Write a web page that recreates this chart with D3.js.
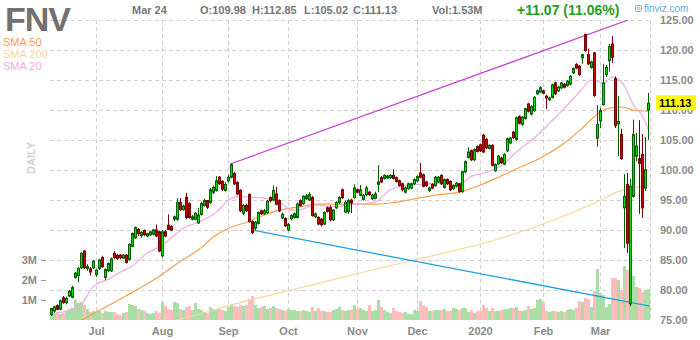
<!DOCTYPE html>
<html>
<head>
<meta charset="utf-8">
<script src="https://cdn.jsdelivr.net/npm/d3@7"></script>
<style>
  html, body { margin: 0; padding: 0; background: #fff; }
  svg { display: block; font-family: Arial, "Liberation Sans", sans-serif; }
</style>
</head>
<body>
<svg id="chart" width="700" height="340"></svg>
<script>
// ---- Daily OHLC for FNV, Jun 10 2019 .. Mar 24 2020 (one entry per session) ----
const opens = [
  75.9,76.5,77.4,76.8,78.7,77.9,79.0,78.8,82.1,82.4, 83.7,86.5,83.6,83.5,83.7,82.6,83.6,85.4,82.1,83.2,
  83.2,86.1,85.8,85.8,85.3,85.8,85.1,87.3,88.7,90.1, 89.1,89.9,89.0,89.2,89.3,90.0,89.7,85.7,89.7,90.8,
  90.6,91.8,91.8,94.6,93.4,95.4,94.4,91.8,91.8,91.2, 92.6,94.1,94.9,94.6,96.3,96.6,98.8,98.1,96.6,98.2,
  98.8,99.4,97.9,96.6,92.8,94.1,95.9,91.4,90.3,91.1, 93.2,92.7,92.9,95.4,95.0,96.0,94.9,92.0,91.9,90.0,
  91.9,92.1,92.1,94.9,94.4,95.2,95.0,95.4,92.2,92.1, 91.8,91.0,93.7,93.7,91.7,93.7,94.6,96.7,93.0,93.1,
  95.0,95.4,96.7,95.8,95.1,95.9,96.3,95.2,95.3,97.6, 98.7,98.6,98.7,98.7,99.1,98.7,98.2,97.7,96.3,96.9,
  97.0,97.7,98.2,99.5,99.2,98.0,96.6,97.6,97.4,98.0, 99.1,97.1,98.4,98.1,96.9,97.3,97.7,96.4,99.7,102.1,
  103.2,101.7,103.9,104.2,105.8,105.1,103.6,104.1,99.9,101.0, 102.0,101.0,103.2,104.5,106.3,105.1,108.9,107.6,108.6,111.0,
  109.3,109.9,112.7,113.0,113.2,112.3,111.7,112.1,114.5,113.2, 113.7,114.3,114.1,114.3,116.2,117.6,117.3,118.7,122.6,119.2,
  117.1,119.5,105.3,108.2,110.9,115.9,118.2,121.0,115.2,107.7, 105.9,93.7,97.6,77.7,95.6,102.3,101.9,102.6,97.0,109.98
];
const highs = [
  77.0,77.4,77.6,78.4,79.0,78.9,80.0,80.7,83.0,83.8, 86.3,86.6,84.3,83.8,85.0,83.5,85.2,85.7,83.6,84.6,
  85.4,86.5,86.0,86.0,86.0,86.0,87.8,89.6,90.6,90.3, 89.8,90.1,89.5,89.8,90.2,90.9,89.9,90.0,90.0,92.6,
  90.8,92.4,95.3,95.3,94.2,96.2,94.6,92.5,93.0,93.7, 94.7,95.2,95.0,97.0,97.4,99.0,99.0,98.3,98.0,99.2,
  101.1,99.7,98.1,96.8,94.3,94.4,96.1,91.6,91.5,93.1, 93.4,93.5,95.0,95.6,97.4,97.2,95.1,92.9,92.1,91.2,
  92.6,92.9,94.6,95.1,95.8,96.0,96.3,95.7,92.9,92.3, 92.0,93.1,93.9,94.1,93.5,94.8,95.6,96.9,94.9,95.2,
  95.2,97.6,96.9,97.5,96.0,97.4,96.5,96.0,96.4,100.8, 99.0,99.3,99.2,99.3,100.1,98.9,98.4,97.9,97.2,97.9,
  97.9,98.6,99.1,101.2,99.4,98.2,97.2,97.8,99.0,99.0, 99.3,98.6,98.6,98.3,97.6,98.0,97.9,99.9,101.6,103.8,
  103.4,103.6,104.1,104.4,106.0,105.3,104.3,104.3,101.1,102.5, 102.2,102.8,105.4,105.5,106.5,108.9,109.1,109.0,110.4,111.2,
  110.8,112.3,113.4,114.0,113.4,112.5,112.2,114.4,114.7,114.0, 114.7,114.5,115.0,115.8,117.1,117.8,117.5,119.4,122.7,120.2,
  118.2,119.7,110.8,110.4,117.7,117.5,121.0,122.3,115.6,112.3, 106.9,99.3,99.5,98.5,108.4,106.2,108.3,106.0,105.5,112.85
];
const lows = [
  75.7,76.2,76.6,76.6,77.7,77.6,78.8,78.6,81.9,81.3, 83.5,83.5,83.2,82.4,83.5,82.2,83.3,83.7,81.6,83.0,
  83.0,85.2,85.0,85.1,85.2,84.4,84.9,87.1,88.5,89.0, 88.7,89.0,88.8,89.0,89.1,88.8,86.3,85.4,88.8,90.0,
  89.8,91.5,91.5,93.2,93.2,91.8,91.9,91.6,91.6,91.0, 92.4,93.9,93.5,94.3,96.0,96.4,97.5,96.5,96.4,97.9,
  98.6,97.5,95.8,93.0,92.5,93.0,91.2,89.3,90.0,90.9, 92.5,92.5,92.7,94.6,94.8,94.1,93.0,91.8,90.5,89.8,
  91.6,91.9,91.9,93.9,94.2,95.0,94.8,92.2,92.0,90.8, 90.6,90.8,92.9,91.4,91.5,93.5,94.3,95.2,92.8,92.7,
  92.8,95.2,96.1,95.6,94.9,95.6,95.7,95.0,95.1,96.3, 97.8,98.4,98.5,98.5,98.4,97.9,97.2,96.4,96.1,96.7,
  96.8,97.5,98.0,98.6,97.1,97.2,96.3,96.8,97.2,97.8, 97.5,96.9,97.5,96.5,96.7,97.1,96.2,96.2,99.5,101.9,
  101.5,101.5,102.9,103.0,102.8,103.5,103.4,100.6,99.7,100.8, 101.0,100.8,103.0,104.3,105.2,104.9,107.6,107.4,108.4,109.6,
  109.1,109.7,112.5,112.8,112.6,110.2,111.5,111.9,112.5,113.0, 113.5,113.6,113.9,114.1,116.0,116.8,115.7,117.7,119.7,117.5,
  116.9,112.2,103.9,107.0,110.7,115.5,116.4,117.8,107.0,102.3, 101.7,87.0,86.2,77.3,95.4,101.5,92.7,92.0,96.5,105.02
];
const closes = [
  76.9,77.2,76.8,78.2,77.9,78.6,79.8,80.4,82.8,83.6, 86.1,83.7,83.9,83.0,84.8,83.3,85.0,83.9,83.4,84.4,
  85.2,85.4,85.3,85.4,85.8,84.6,87.6,89.4,90.4,89.4, 89.6,89.2,89.4,89.7,90.0,89.0,86.5,89.7,89.0,90.1,
  90.0,92.2,94.6,93.4,94.0,92.1,92.1,92.2,92.8,92.5, 94.4,94.9,93.8,96.7,97.1,98.2,97.7,96.8,97.6,98.8,
  100.9,97.7,96.0,93.2,94.1,93.2,91.4,89.6,91.3,92.9, 92.7,93.2,94.8,94.9,96.6,94.3,93.2,92.6,90.7,90.9,
  92.4,92.7,94.3,94.1,95.6,95.7,95.9,92.4,92.7,91.0, 90.9,92.9,93.1,91.7,93.3,94.6,95.4,95.4,94.6,94.9,
  94.5,97.0,96.3,96.7,95.8,97.0,95.9,95.8,96.0,98.0, 98.0,99.1,99.0,99.1,98.6,98.1,97.4,96.7,97.0,97.7,
  97.7,98.4,98.9,98.8,97.3,97.4,97.0,97.0,98.8,98.8, 97.7,98.4,97.7,96.7,97.4,97.8,96.4,99.7,101.4,103.0,
  101.7,103.4,103.1,103.2,103.0,103.7,104.1,100.8,100.9,102.3, 101.2,102.6,105.2,105.3,105.4,108.7,107.8,108.8,110.2,109.8,
  110.6,112.1,113.2,113.7,112.8,112.0,112.0,114.2,112.7,113.8, 114.5,113.8,114.8,115.6,116.9,117.0,115.9,119.2,119.9,117.7,
  118.0,112.4,107.6,109.9,114.5,117.1,120.6,118.8,107.4,108.1, 101.9,95.6,87.8,97.3,105.9,104.0,101.1,93.7,100.06,111.13
];
// Volume per session, millions of shares
const volumes = [
  0.35,0.30,0.40,0.30,0.35,0.45,0.55,0.60,1.00,0.85, 0.90,0.75,0.55,0.40,0.45,0.40,0.45,0.35,0.45,0.40,
  0.40,0.40,0.30,0.25,0.35,0.40,0.80,0.75,0.70,0.55, 0.50,0.45,0.35,0.30,0.35,0.45,0.35,0.90,0.70,0.55,
  0.50,0.90,0.85,0.55,0.50,0.65,0.70,0.50,0.85,0.55, 0.50,0.40,0.35,0.65,0.55,0.50,0.55,0.50,0.45,0.65,
  0.80,0.70,0.65,0.75,0.70,0.75,1.05,1.20,0.75,0.60, 0.65,0.70,0.55,0.60,0.70,0.60,0.55,0.50,0.45,0.55,
  0.50,0.50,0.45,0.45,0.50,0.45,0.40,0.65,0.45,0.60, 0.45,0.45,0.40,0.40,0.50,0.55,0.65,0.50,0.45,0.50,
  0.50,0.75,0.55,0.60,0.50,0.45,0.75,0.45,0.50,1.00, 0.65,0.50,0.40,0.35,0.60,0.45,0.40,0.35,0.40,0.30,
  0.30,0.50,0.45,0.95,0.75,0.65,0.45,0.45,0.50,0.50, 0.50,0.55,0.45,0.45,0.60,0.55,0.50,0.60,0.60,0.40,
  0.50,0.35,0.45,0.45,0.75,0.60,0.45,0.60,0.45,0.45, 0.50,0.55,0.55,0.60,0.60,0.65,0.45,0.45,0.50,0.70,
  0.55,0.60,1.00,1.05,0.90,0.45,0.40,0.45,0.45,0.40, 0.45,0.40,0.50,0.55,0.50,0.60,0.95,0.90,1.10,1.05,
  0.65,1.45,2.55,1.35,1.25,0.65,0.80,2.10,2.10,2.00, 1.50,2.70,2.50,2.35,2.20,1.65,1.60,1.40,1.50,1.53
];

// Moving averages, sampled at session indexes
const sma20At  = [0,5,10,14,19,23,27,32,36,40,44,49,55,59,62,66,71,76,80,83,88,93,100,108,113,120,131,136,139,144,150,155,162,166,171,176,180,184,187,191,194,197,199];
const sma20    = [76.0,76.5,77.7,80.6,81.8,83.0,84.0,86.2,87.2,88.7,90.3,91.3,93.0,95.0,95.6,95.5,95.3,94.7,93.3,93.4,94.2,93.9,94.2,94.7,96.7,97.5,97.8,97.3,98.7,99.5,100.7,103.0,105.8,107.8,110.3,113.0,115.0,114.5,115.5,114.0,110.8,109.0,106.7];
const sma50At  = [0,13,24,36,43,49,55,59,65,71,76,82,89,98,107,113,121,128,136,143,149,155,163,171,177,183,186,190,194,199];
const sma50    = [72.3,75.8,78.8,82.3,84.8,86.7,89.2,90.3,91.3,92.5,93.3,93.8,94.3,94.3,94.3,94.5,95.2,95.8,96.3,97.5,98.8,100.2,102.0,104.5,107.0,109.7,110.3,110.5,110.0,109.8];
const sma200At = [0,42,66,80,100,121,149,165,182,190,199];
const sma200   = [70.0,75.0,78.3,80.0,82.5,85.0,88.5,91.2,94.7,96.6,97.3];

// Trend lines: [session index, price] at each end
const upperTrendAt = [59.6, 192.2], upperTrend = [101.0, 125.0];
const lowerTrendAt = [66.8, 199.5], lowerTrend = [90.0, 77.3];

// Axis labels
const monthLabels = ["Jul","Aug","Sep","Oct","Nov","Dec","2020","Feb","Mar"];
const monthStarts = [15,37,59,79,102,122,143,164,183];
const priceTicks  = [75,80,85,90,95,100,105,110,115,120,125];
const volTicks    = [1,2,3];
const legendNames = ["SMA 50","SMA 200","SMA 20"];

const ticker = "FNV", lastDate = "Mar 24", lastVol = "1.53M";
const change = 11.07, changePct = 11.06;

// ---- drawing ----
const n = closes.length;
const svg = d3.select("#chart");
const plotL = 50, plotR = 650, plotT = 20, plotB = 320;

const x  = d3.scaleBand().domain(d3.range(n)).range([plotL, plotR]).padding(0);
const xi = d3.scaleLinear().domain([0, n - 1]).range([plotL + x.bandwidth()/2, plotR - x.bandwidth()/2]);
const y  = d3.scaleLinear().domain([75, 125]).range([plotB, plotT]);
const yv = d3.scaleLinear().domain([0, 15]).range([plotB, plotT]);

const C = {
  grid: "#cfcfcf", axis: "#8a8a8a",
  upFill: "#00e400", upLine: "#005f00",
  dnFill: "#d20000", dnLine: "#760000",
  volUp: "#abdea4", volDn: "#ffbdbd",
  sma50: "#ff9d4e", sma200: "#f6d69c", sma20: "#f4a8e7",
  upperTrend: "#c547d4", lowerTrend: "#1da1e2"
};

svg.append("defs").append("clipPath").attr("id", "plot")
  .append("rect").attr("x", plotL).attr("y", plotT).attr("width", plotR - plotL).attr("height", plotB - plotT);

// grid
const grid = svg.append("g").attr("stroke", C.grid).attr("stroke-dasharray", "4,3").attr("shape-rendering", "crispEdges");
grid.selectAll("line.h").data(priceTicks.filter(p => p > 75)).join("line")
  .attr("x1", plotL).attr("x2", plotR)
  .attr("y1", d => Math.round(y(d)) + 0.5).attr("y2", d => Math.round(y(d)) + 0.5);
grid.selectAll("line.v").data(monthStarts.map(i => x(i) + 1.5).concat([plotR + 0.5])).join("line")
  .attr("y1", plotT).attr("y2", plotB)
  .attr("x1", d => Math.floor(d) + 0.5).attr("x2", d => Math.floor(d) + 0.5);

const isUp = i => closes[i] >= opens[i];

// volume
svg.append("g").attr("shape-rendering", "crispEdges").selectAll("rect").data(d3.range(n)).join("rect")
  .attr("x", i => x(i)).attr("width", x.bandwidth())
  .attr("y", i => yv(volumes[i])).attr("height", i => plotB - yv(volumes[i]))
  .attr("fill", i => isUp(i) ? C.volUp : C.volDn);

// moving averages
const plot = svg.append("g").attr("clip-path", "url(#plot)");
function smaLine(at, vals, color) {
  plot.append("path")
    .datum(at.map((a, k) => [a, vals[k]]))
    .attr("fill", "none").attr("stroke", color).attr("stroke-width", 1.2)
    .attr("d", d3.line().x(d => xi(d[0])).y(d => y(d[1])).curve(d3.curveMonotoneX));
}
smaLine(sma200At, sma200, C.sma200);
smaLine(sma50At, sma50, C.sma50);
smaLine(sma20At, sma20, C.sma20);

// trend lines
function trend(at, vals, color) {
  plot.append("line")
    .attr("x1", xi(at[0])).attr("y1", y(vals[0]))
    .attr("x2", xi(at[1])).attr("y2", y(vals[1]))
    .attr("stroke", color).attr("stroke-width", 1.3);
}
trend(upperTrendAt, upperTrend, C.upperTrend);
trend(lowerTrendAt, lowerTrend, C.lowerTrend);

// candles
const cg = svg.append("g").selectAll("g").data(d3.range(n)).join("g");
cg.append("line")
  .attr("x1", i => x(i) + 1.5).attr("x2", i => x(i) + 1.5)
  .attr("y1", i => y(highs[i])).attr("y2", i => y(lows[i]))
  .attr("stroke", i => isUp(i) ? C.upLine : C.dnLine).attr("stroke-width", 1);
cg.append("rect")
  .attr("x", i => x(i) + 0.5).attr("width", x.bandwidth() - 1)
  .attr("y", i => y(Math.max(opens[i], closes[i])))
  .attr("height", i => Math.max(1, Math.abs(y(opens[i]) - y(closes[i]))))
  .attr("fill", i => isUp(i) ? C.upFill : C.dnFill)
  .attr("stroke", i => isUp(i) ? C.upLine : C.dnLine).attr("stroke-width", 1);

// price axis (right)
const yAxis = svg.append("g").attr("transform", `translate(${plotR},0)`)
  .call(d3.axisRight(y).tickValues(priceTicks).tickFormat(d3.format(".2f")).tickSize(0).tickPadding(10));
yAxis.select(".domain").remove();
yAxis.selectAll("text").attr("fill", C.axis).attr("font-size", 11).attr("font-weight", "bold")
  .attr("font-family", "Arial, 'Liberation Sans', sans-serif");

// last price marker
const last = closes[n - 1];
svg.append("rect").attr("x", 656).attr("y", y(last) - 8).attr("width", 40).attr("height", 15).attr("fill", "#ffff00");
svg.append("text").attr("x", 659).attr("y", y(last) + 4).attr("font-size", 11).attr("font-weight", "bold")
  .attr("fill", "#000").text(d3.format(".2f")(last));

// month axis
const xAxis = svg.append("g").attr("transform", `translate(0,${plotB})`)
  .call(d3.axisBottom(x).tickValues(monthStarts).tickFormat((d, k) => monthLabels[k]).tickSize(0).tickPadding(7));
xAxis.select(".domain").remove();
xAxis.selectAll("text").attr("fill", C.axis).attr("font-size", 11).attr("font-weight", "bold")
  .attr("font-family", "Arial, 'Liberation Sans', sans-serif");

// volume axis (left)
const vAxis = svg.append("g").attr("transform", `translate(46,0)`)
  .call(d3.axisLeft(yv).tickValues(volTicks).tickFormat(d => d + "M").tickSize(5).tickPadding(4));
vAxis.select(".domain").remove();
vAxis.selectAll("line").attr("stroke", "#999");
vAxis.selectAll("text").attr("fill", C.axis).attr("font-size", 11).attr("font-weight", "bold")
  .attr("font-family", "Arial, 'Liberation Sans', sans-serif");

// header
svg.append("text").attr("x", 5).attr("y", 31).attr("font-size", 34).attr("font-weight", "bold")
  .attr("fill", "#717171").attr("letter-spacing", -1).text(ticker);

const head = svg.append("g").attr("font-size", 11).attr("font-weight", "bold").attr("fill", "#767676");
head.append("text").attr("x", 132).attr("y", 14).text(lastDate);
head.append("text").attr("x", 200).attr("y", 14).text("O:" + d3.format(".2f")(opens[n - 1]));
head.append("text").attr("x", 252).attr("y", 14).text("H:" + d3.format(".2f")(highs[n - 1]));
head.append("text").attr("x", 304).attr("y", 14).text("L:" + d3.format(".2f")(lows[n - 1]));
head.append("text").attr("x", 353).attr("y", 14).text("C:" + d3.format(".2f")(closes[n - 1]));
head.append("text").attr("x", 432).attr("y", 14).text("Vol:" + lastVol);

svg.append("text").attr("x", 517).attr("y", 15).attr("font-size", 14).attr("font-weight", "bold")
  .attr("fill", "#1f9e1f").text(`+${d3.format(".2f")(change)} (${d3.format(".2f")(changePct)}%)`);

// site mark
const mark = svg.append("g");
mark.append("rect").attr("x", 635.5).attr("y", 5.5).attr("width", 6).attr("height", 6).attr("rx", 1)
  .attr("fill", "none").attr("stroke", "#6fb3e6").attr("stroke-width", 1);
mark.append("circle").attr("cx", 638.5).attr("cy", 8.5).attr("r", 1.3).attr("fill", "none").attr("stroke", "#6fb3e6");
mark.append("text").attr("x", 644).attr("y", 12).attr("font-size", 10).attr("fill", "#5fa9e3").text("finviz.com");

// legend
const legendColors = [C.sma50, C.sma200, C.sma20];
svg.append("g").selectAll("text").data(legendNames).join("text")
  .attr("x", 3).attr("y", (d, k) => 46 + k * 11.8)
  .attr("font-size", 11).attr("fill", (d, k) => legendColors[k]).text(d => d);

// timeframe caption
svg.append("text").attr("transform", "translate(35,158) rotate(-90)")
  .attr("text-anchor", "middle").attr("font-size", 11).attr("font-weight", "bold")
  .attr("fill", "#d2d2d2").text("DAILY");
</script>
</body>
</html>
